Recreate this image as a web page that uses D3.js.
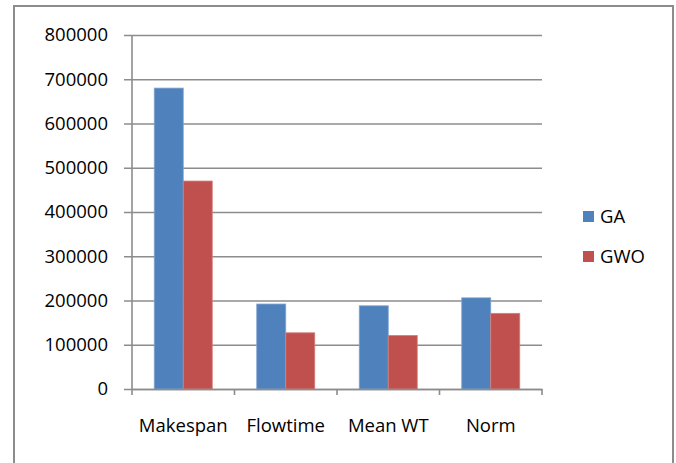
<!DOCTYPE html>
<html><head><meta charset="utf-8">
<script src="https://cdn.jsdelivr.net/npm/d3@7"></script>
<style>body{margin:0;background:#fff}svg{display:block}text{font-family:"Open Sans","Noto Sans",sans-serif;fill:#000}</style>
</head><body>
<script>
const categories = ["Makespan", "Flowtime", "Mean WT", "Norm"];
const seriesNames = ["GA", "GWO"];
const gaValues = [680000, 192000, 188000, 206000];
const gwoValues = [470000, 127000, 121000, 171000];
const yTicks = [0, 100000, 200000, 300000, 400000, 500000, 600000, 700000, 800000];
const colors = ["#4F81BD", "#C0504D"];

const W = 676, H = 463;
const FS = 18.5;
const svg = d3.select("body").append("svg").attr("width", W).attr("height", H);

svg.append("rect").attr("x", 14).attr("y", 6).attr("width", 659).attr("height", 470)
  .attr("fill", "#fff").attr("stroke", "#8c8c8c").attr("stroke-width", 2);

const x0 = 132, x1 = 542, yTop = 35, yBot = 389;
const x = d3.scaleBand().domain(categories).range([x0, x1]);
const xs = d3.scaleBand().domain(seriesNames).range([0, 58]);
const y = d3.scaleLinear().domain([0, 800000]).range([yBot, yTop]);

// gridlines + y ticks
const yAxis = d3.axisLeft(y).tickValues(yTicks).tickSize(-(x1 - x0)).tickPadding(24).tickFormat(d3.format("d"));
const gy = svg.append("g").attr("transform", `translate(${x0},0)`).call(yAxis);
gy.select(".domain").remove();
gy.selectAll(".tick line").attr("stroke", "#8c8c8c").attr("stroke-width", 1.6).attr("x1", -8);
gy.selectAll(".tick text").attr("font-size", FS).attr("fill", "#000").style("font-family", '"Open Sans","Noto Sans",sans-serif');

// bars
const data = categories.map((c, i) => ({c, vals: [gaValues[i], gwoValues[i]]}));
const groups = svg.append("g").selectAll("g").data(data).join("g")
  .attr("transform", d => `translate(${x(d.c) + x.bandwidth() / 2 - 29},0)`);
groups.selectAll("rect").data(d => d.vals.map((v, j) => ({v, s: seriesNames[j], j})))
  .join("rect")
  .attr("x", d => xs(d.s)).attr("width", xs.bandwidth())
  .attr("y", d => y(d.v)).attr("height", d => yBot - y(d.v))
  .attr("fill", d => colors[d.j])
  .attr("stroke", d => d.j === 0 ? "#7fa3d0" : "#d27f7c").attr("stroke-width", 0.8);

// y axis line
svg.append("line").attr("x1", x0).attr("x2", x0).attr("y1", yTop).attr("y2", yBot)
  .attr("stroke", "#8c8c8c").attr("stroke-width", 1.6);

// x axis
const xAxis = d3.axisBottom(x).tickSize(0).tickPadding(30);
const gx = svg.append("g").attr("transform", `translate(0,${yBot})`).call(xAxis);
gx.select(".domain").attr("stroke", "#8c8c8c").attr("stroke-width", 1.6);
gx.selectAll(".tick text").attr("font-size", FS).attr("fill", "#000").style("font-family", '"Open Sans","Noto Sans",sans-serif');
const xTickPos = categories.map(c => x(c)).concat([x1]);
svg.append("g").selectAll("line").data(xTickPos).join("line")
  .attr("x1", d => d).attr("x2", d => d).attr("y1", yBot).attr("y2", yBot + 6)
  .attr("stroke", "#8c8c8c").attr("stroke-width", 1.6);

// legend
const leg = svg.append("g").selectAll("g").data(seriesNames).join("g")
  .attr("transform", (d, i) => `translate(583,${211 + i * 40})`);
leg.append("rect").attr("width", 11).attr("height", 11).attr("fill", (d, i) => colors[i]);
leg.append("text").attr("x", 17).attr("y", 11.5).attr("font-size", FS).text(d => d);
</script>
</body></html>
